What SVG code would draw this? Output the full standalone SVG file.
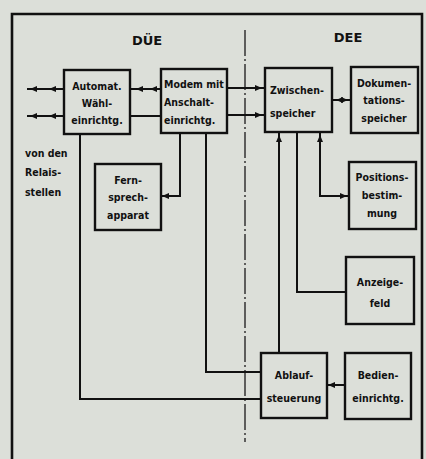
<svg xmlns="http://www.w3.org/2000/svg" width="426" height="459" viewBox="0 0 426 459">
<style>
.bg{fill:#dcdfd9}
.frame{fill:none;stroke:#111;stroke-width:2.6}
.box{fill:#dcdfd9;stroke:#111;stroke-width:2.4}
.ln{fill:none;stroke:#111;stroke-width:2}
.div{fill:none;stroke:#333;stroke-width:1.5;stroke-dasharray:26 3 2 3}
text{font-family:"DejaVu Sans Condensed","DejaVu Sans",sans-serif;font-weight:bold;font-size:10.5px;fill:#111}
.c{text-anchor:middle}
.h{font-family:"DejaVu Sans",sans-serif;font-size:13px}
.ah{fill:#111}
</style>
<defs>
<path id="ah" d="M0,0 L7,-3 L7,3 Z"/>
</defs>
<rect class="bg" x="0" y="0" width="426" height="459"/>
<path class="frame" d="M12,460 V14 H422 V460"/>
<path class="div" d="M245,30 V442"/>
<text class="h c" x="147" y="45">DÜE</text>
<text class="h c" x="348" y="42">DEE</text>
<text x="25" y="157">von den</text>
<text x="25" y="176">Relais-</text>
<text x="25" y="196">stellen</text>

<g id="connectors">
<path class="ln" d="M27,89 H64 M27,116 H64 M130,89 H161 M130,116 H161 M227,88 H265 M227,115 H265 M332,100 H351 M180,133 V196 H161 M206,133 V372 H261 M80,134 V399 H261 M279,132 V353 M297,132 V292 H346 M320,132 V196 H349 M345,385 H327"/>
<use class="ah" href="#ah" transform="translate(30,89)"/>
<use class="ah" href="#ah" transform="translate(49,89)"/>
<use class="ah" href="#ah" transform="translate(30,116)"/>
<use class="ah" href="#ah" transform="translate(49,116)"/>
<use class="ah" href="#ah" transform="translate(136,89)"/>
<use class="ah" href="#ah" transform="translate(150,89)"/>
<use class="ah" href="#ah" transform="translate(262,88) rotate(180)"/>
<use class="ah" href="#ah" transform="translate(262,115) rotate(180)"/>
<use class="ah" href="#ah" transform="translate(336,100)"/>
<use class="ah" href="#ah" transform="translate(348,100) rotate(180)"/>
<use class="ah" href="#ah" transform="translate(162,196)"/>
<use class="ah" href="#ah" transform="translate(279,135) rotate(90)"/>
<use class="ah" href="#ah" transform="translate(320,135) rotate(90)"/>
<use class="ah" href="#ah" transform="translate(347,196) rotate(180)"/>
<use class="ah" href="#ah" transform="translate(328,385)"/>
</g>

<g id="wahl">
<rect class="box" x="64" y="70" width="66" height="64"/>
<text class="c" x="97" y="90">Automat.</text>
<text class="c" x="97" y="107">Wähl-</text>
<text class="c" x="97" y="124">einrichtg.</text>
</g>
<g id="modem">
<rect class="box" x="161" y="69" width="66" height="64"/>
<text x="164" y="88">Modem mit</text>
<text x="164" y="106">Anschalt-</text>
<text x="164" y="124">einrichtg.</text>
</g>
<g id="zwischen">
<rect class="box" x="265" y="68" width="67" height="64"/>
<text x="270" y="94">Zwischen-</text>
<text x="270" y="117">speicher</text>
</g>
<g id="doku">
<rect class="box" x="351" y="67" width="67" height="66"/>
<text class="c" x="384" y="87">Dokumen-</text>
<text class="c" x="384" y="104">tations-</text>
<text class="c" x="384" y="122">speicher</text>
</g>
<g id="fern">
<rect class="box" x="95" y="164" width="66" height="66"/>
<text class="c" x="128" y="184">Fern-</text>
<text class="c" x="128" y="201">sprech-</text>
<text class="c" x="128" y="219">apparat</text>
</g>
<g id="position">
<rect class="box" x="349" y="162" width="67" height="67"/>
<text class="c" x="382" y="181">Positions-</text>
<text class="c" x="382" y="199">bestim-</text>
<text class="c" x="382" y="217">mung</text>
</g>
<g id="anzeige">
<rect class="box" x="346" y="257" width="68" height="67"/>
<text class="c" x="380" y="286">Anzeige-</text>
<text class="c" x="380" y="307">feld</text>
</g>
<g id="ablauf">
<rect class="box" x="261" y="353" width="66" height="65"/>
<text class="c" x="294" y="379">Ablauf-</text>
<text class="c" x="294" y="402">steuerung</text>
</g>
<g id="bedien">
<rect class="box" x="345" y="353" width="66" height="66"/>
<text class="c" x="378" y="379">Bedien-</text>
<text class="c" x="378" y="402">einrichtg.</text>
</g>
</svg>
